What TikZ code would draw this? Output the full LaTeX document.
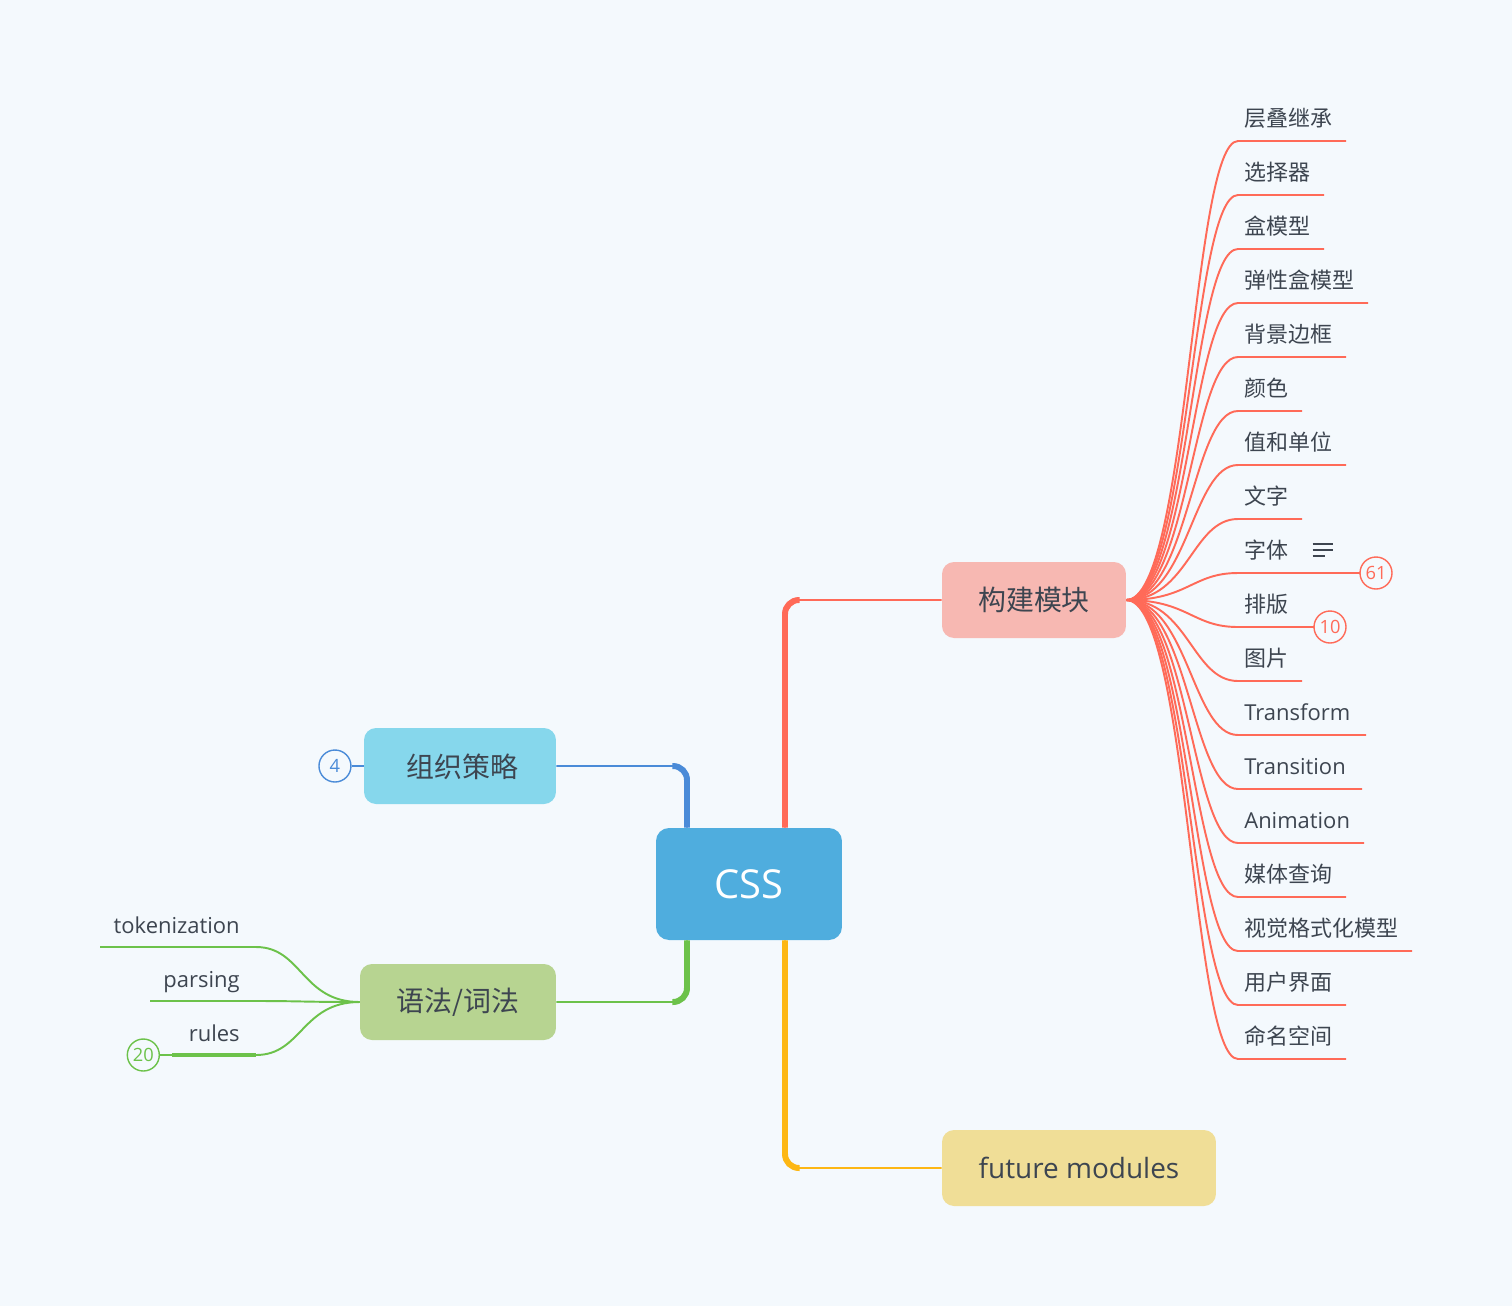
\documentclass[tikz,border=0pt]{standalone}
\usepackage{fontspec}
\setmainfont{Open Sans}
\newfontfamily\cjk{Noto Sans CJK SC}
\usetikzlibrary{positioning,calc}

\definecolor{bgcol}{HTML}{F4F9FD}
\definecolor{txtcol}{HTML}{3D4550}
\definecolor{csscol}{HTML}{4FADDE}
\definecolor{redline}{HTML}{FF6A58}
\definecolor{redfill}{HTML}{F7B8B2}
\definecolor{blueline}{HTML}{4A8BD8}
\definecolor{bluefill}{HTML}{86D7EC}
\definecolor{greenline}{HTML}{6CC24A}
\definecolor{greenfill}{HTML}{B7D491}
\definecolor{yellowline}{HTML}{FDB714}
\definecolor{yellowfill}{HTML}{F0DE97}

\begin{document}
\begin{tikzpicture}[
            x=0.02cm, y=-0.02cm,
            topic/.style={
                rounded corners=0.24cm,
                minimum height=1.52cm,
                inner sep=0pt,
                text=txtcol,
                font=\fontsize{15.9}{19}\selectfont
            },
            leaf/.style={
                anchor=base west,
                inner sep=0pt,
                text=txtcol,
                font=\fontsize{12.5}{15}\selectfont
            },
            badge/.style={
                circle,
                draw,
                fill=bgcol,
                line width=0.8pt,
                minimum size=0.64cm,
                inner sep=0pt,
                font=\fontsize{10.4}{12}\selectfont
            },
            twig/.style={
                line width=1.1pt
            },
            bough/.style={
                line width=1.1pt,
                rounded corners=0.28cm
            },
            trunk/.style={
                line width=3.4pt,
                rounded corners=0.28cm
            }
        ]

            % Canvas
            \useasboundingbox (0,0) rectangle (1512,1306);
            \fill[bgcol] (0,0) rectangle (1512,1306);

            % Layout parameters
            \def\yStep{54}
            \def\xLeaf{1244}
            \def\xLine{1238}

            % Central topic and main branches
            \node[topic, fill=csscol, text=white, minimum width=3.72cm, minimum height=2.24cm,
                  rounded corners=0.26cm, font=\fontsize{22.7}{27}\selectfont] (css) at (749,884) {CSS};
            \node[topic, fill=redfill, minimum width=3.68cm] (kj) at (1034,600) {\cjk 构建模块};
            \node[topic, fill=bluefill, minimum width=3.84cm, text depth=0pt] (zz) at (460,766) {\hspace{0.1cm}\cjk 组织策略};
            \node[topic, fill=greenfill, minimum width=3.92cm] (yf) at (458,1002) {\cjk 语法/词法};
            \node[topic, fill=yellowfill, minimum width=5.48cm] (fm) at (1079,1168) {future modules};

            % Branch connectors (thick near the centre, thin near the topic)
            \draw[bough, redline] ($(css.north)+(36,0)$) |- (kj.west);
            \draw[trunk, redline] ($(css.north)+(36,0)$) |- ($(kj.west)+(-142,0)$);
            \draw[bough, blueline] ($(css.north)+(-62,0)$) |- (zz.east);
            \draw[trunk, blueline] ($(css.north)+(-62,0)$) |- ($(zz.east)+(116,0)$);
            \draw[bough, greenline] ($(css.south)+(-62,0)$) |- (yf.east);
            \draw[trunk, greenline] ($(css.south)+(-62,0)$) |- ($(yf.east)+(116,0)$);
            \draw[bough, yellowline] ($(css.south)+(36,0)$) |- (fm.west);
            \draw[trunk, yellowline] ($(css.south)+(36,0)$) |- ($(fm.west)+(-142,0)$);

            % Subtopics of the red branch
            \foreach \txt/\xe/\fnt [count=\j from 0] in {
                层叠继承/1346/\cjk, 选择器/1324/\cjk, 盒模型/1324/\cjk, 弹性盒模型/1368/\cjk,
                背景边框/1346/\cjk, 颜色/1302/\cjk, 值和单位/1346/\cjk, 文字/1302/\cjk,
                字体/1360/\cjk, 排版/1314/\cjk, 图片/1302/\cjk, Transform/1366/\rmfamily,
                Transition/1362/\rmfamily, Animation/1364/\rmfamily, 媒体查询/1346/\cjk,
                视觉格式化模型/1412/\cjk, 用户界面/1346/\cjk, 命名空间/1346/\cjk} {
                \pgfmathsetmacro\yu{141+\j*\yStep}
                \node[leaf] (leaf\j) at (\xLeaf,\yu-15) {\fnt\txt};
                \coordinate (us\j) at (\xLine,\yu);
                \coordinate (ue\j) at (\xe,\yu);
                \draw[twig, redline] (kj.east) .. controls +(62,0) and +(-46,0) .. (us\j) -- (ue\j);
            }

            % Counters on the red branch
            \node[badge, draw=redline, text=redline] (b61) at ($(ue8)+(16,0)$) {61};
            \node[badge, draw=redline, text=redline] (b10) at ($(ue9)+(16,0)$) {10};

            % Note icon
            \foreach \k/\len in {0/20, 1/20, 2/12} {
                \draw[txtcol, line width=0.75pt] ($(leaf8.base east)+(24,-14+\k*6)$) -- ++(\len,0);
            }

            % Counter on the blue branch
            \node[badge, draw=blueline, text=blueline, left=0.24cm of zz] (b4) {4};
            \draw[twig, blueline] (b4) -- (zz);

            % Subtopics of the green branch
            \foreach \txt/\xs [count=\j from 0] in {tokenization/100, parsing/150, rules/172} {
                \pgfmathsetmacro\yu{947+\j*\yStep}
                \node[leaf, anchor=base east] (lf\j) at (240,\yu-14) {\txt};
                \coordinate (ls\j) at (\xs,\yu);
                \coordinate (le\j) at (256,\yu);
                \draw[twig, greenline] (yf.west) .. controls +(-58,0) and +(46,0) .. (le\j) -- (ls\j);
            }
            \draw[greenline, line width=2.4pt] (le2) -- (ls2);

            % Counter on the green branch
            \node[badge, draw=greenline, text=greenline, left=0.24cm of ls2] (b20) {20};
            \draw[twig, greenline] (b20) -- (ls2);

        \end{tikzpicture}
\end{document}
